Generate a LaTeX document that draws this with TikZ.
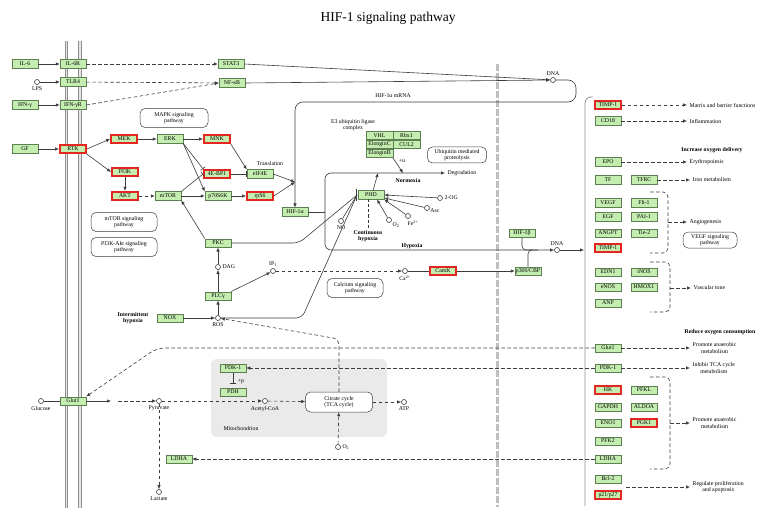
\documentclass[tikz,border=0pt]{standalone}
\usepackage{fontspec}
\setmainfont{Liberation Serif}
\usetikzlibrary{arrows.meta, positioning, calc}
\definecolor{KeggGreen}{HTML}{C4EDB0}
\definecolor{KeggEdge}{HTML}{5E7F52}
\definecolor{KeggRed}{HTML}{E3261F}
\definecolor{KeggLine}{HTML}{3C3C3C}
\definecolor{KeggGray}{HTML}{8E8E8E}
\definecolor{KeggMito}{HTML}{EAEAEA}
\newcommand{\keggfont}{\fontsize{5.8}{6.4}\selectfont}
\tikzset{
    gene/.style={
        draw=KeggEdge,
        fill=KeggGreen,
        line width=0.5pt,
        minimum width=26pt,
        minimum height=8.5pt,
        inner sep=0pt,
        font=\keggfont
    },
    hit/.style={
        gene,
        draw=KeggRed,
        line width=1.8pt
    },
    cplx/.style={
        gene,
        minimum width=26.5pt
    },
    cpd/.style={
        circle,
        draw=KeggLine,
        fill=white,
        line width=0.6pt,
        minimum size=5pt,
        inner sep=0pt
    },
    pathbox/.style={
        draw=KeggLine,
        fill=white,
        rounded corners=5pt,
        line width=0.5pt,
        align=center,
        font=\keggfont,
        inner sep=1pt
    },
    lbl/.style={font=\keggfont, inner sep=0.5pt, align=center},
    blbl/.style={font=\keggfont\bfseries, inner sep=0.5pt, align=center},
    wire/.style={KeggLine, line width=0.6pt},
    link/.style={
        wire,
        -{Latex[length=4pt,width=3.4pt]}
    },
    dlink/.style={link, dash pattern=on 3.5pt off 2.5pt},
    inhib/.style={wire, -{Bar[width=6pt]}},
    dbrace/.style={wire, dash pattern=on 3.5pt off 2.5pt, rounded corners=5pt}
}

\begin{document}
\begin{tikzpicture}[x=1pt, y=-1pt]
    \useasboundingbox (0,0) rectangle (776,513);
    \fill[white] (0,0) rectangle (776,513);

    % Title
    \node[font=\fontsize{13.5}{16}\selectfont] (title) at (388,18) {HIF-1 signaling pathway};

    % Membranes
    \foreach \mx in {66.5,80} {
        \draw[line width=3.6pt, KeggGray] (\mx,41) -- (\mx,508);
        \draw[line width=1.2pt, gray!20] (\mx,41) -- (\mx,508);
    }
    \draw[line width=3pt, gray!50, dash pattern=on 7pt off 2pt] (497,64) -- (497,507);

    % Mitochondrion
    \fill[KeggMito, rounded corners=6pt] (211,359) rectangle (387,437);
    \node[lbl] (mitolbl) at (241,429) {Mitochondrion};

    % Receptors
    \node[gene] (il6) at (25,64) {IL-6};
    \node[gene] (il6r) at (73,64) {IL-6R};
    \node[gene] (stat3) at (231,64) {STAT3};
    \node[cpd] (lps) at (37,82) {};
    \node[lbl, below=1pt of lps] (lpslbl) {LPS};
    \node[gene] (tlr4) at (73,82) {TLR4};
    \node[gene] (nfkb) at (232,83) {NF-κB};
    \node[gene] (ifng) at (25,105) {IFN-γ};
    \node[gene] (ifngr) at (73,105) {IFN-γR};
    \node[gene] (gf) at (25,149) {GF};
    \node[hit] (rtk) at (73,149) {RTK};
    \node[cpd] (dna1) at (553,80) {};
    \node[lbl, above=1pt of dna1] (dna1lbl) {DNA};
    \node[lbl] (mrnalbl) at (393,96) {HIF-1α mRNA};

    % Kinase cascades
    \node[pathbox, minimum width=68pt, minimum height=19pt] (mapkpw) at (174,118) {MAPK signaling\\pathway};
    \node[hit] (mek) at (124,139) {MEK};
    \node[gene] (erk) at (170,139) {ERK};
    \node[hit] (mnk) at (217,139) {MNK};
    \node[hit] (pi3k) at (125,172) {PI3K};
    \node[hit] (akt) at (125,196) {AKT};
    \node[gene] (mtor) at (168,196) {mTOR};
    \node[hit] (ebp1) at (217,174) {4E-BP1};
    \node[gene] (eif4e) at (260,174) {eIF4E};
    \node[gene] (p70) at (218,196) {p70S6K};
    \node[hit] (rps6) at (260,196) {rpS6};
    \node[lbl] (transl) at (270,164) {Translation};
    \node[gene] (hif1a) at (295,212) {HIF-1α};
    \node[pathbox, minimum width=66pt, minimum height=19pt] (mtorpw) at (124,222) {mTOR signaling\\pathway};
    \node[pathbox, minimum width=66pt, minimum height=19pt] (pi3kpw) at (124,247) {PI3K-Akt signaling\\pathway};

    % PLC / ROS
    \node[gene] (pkc) at (218,243) {PKC};
    \node[cpd] (dag) at (218,267) {};
    \node[lbl, right=1pt of dag] (daglbl) {DAG};
    \node[cpd] (ip3) at (273,271) {};
    \node[lbl, above=0.5pt of ip3] (ip3lbl) {IP\textsubscript{3}};
    \node[gene] (plcg) at (218,296) {PLCγ};
    \node[gene] (nox) at (170,318) {NOX};
    \node[cpd] (ros) at (218,318) {};
    \node[lbl, below=1pt of ros] (roslbl) {ROS};
    \node[blbl] (ihyp) at (133,318) {Intermittent\\hypoxia};

    % Degradation / stabilisation
    \node[lbl] (e3lbl) at (353,125) {E3 ubiquitin ligase\\complex};
    \node[cplx] (vhl) at (379.5,135.5) {VHL};
    \node[cplx, right=0pt of vhl] (rbx1) {Rbx1};
    \node[cplx, below=0pt of vhl] (elonc) {ElonginC};
    \node[cplx, below=0pt of rbx1] (cul2) {CUL2};
    \node[cplx, below=0pt of elonc] (elonb) {ElonginB};
    \node[pathbox, minimum width=59pt, minimum height=16pt] (upp) at (457,155) {Ubiquitin mediated\\proteolysis};
    \node[lbl] (ulbl) at (402,161) {+u};
    \node[lbl, anchor=west] (degr) at (447,173) {Degradation};
    \node[blbl] (normox) at (408,181) {Normoxia};
    \node[gene] (phd) at (371,195) {PHD};
    \node[cpd] (nocpd) at (341,221) {};
    \node[lbl, below=1pt of nocpd] (nolbl) {NO};
    \node[cpd] (o2a) at (389,220) {};
    \node[lbl] (o2albl) at (396,225) {O\textsubscript{2}};
    \node[cpd] (fe) at (408,216) {};
    \node[lbl] (felbl) at (413,223) {Fe\textsuperscript{2+}};
    \node[cpd] (asc) at (427,208) {};
    \node[lbl] (asclbl) at (435,211) {Asc};
    \node[cpd] (og) at (440,198) {};
    \node[lbl, right=1pt of og] (oglbl) {2-OG};
    \node[blbl] (conthyp) at (368,236) {Continuous\\hypoxia};
    \node[blbl] (hypox) at (412,246) {Hypoxia};
    \node[cpd] (dna2) at (557,250) {};
    \node[lbl, above=1pt of dna2] (dna2lbl) {DNA};
    \node[gene] (hif1b) at (522,233) {HIF-1β};
    \node[gene] (p300) at (528,271) {p300/CBP};
    \node[hit] (camk) at (443,271) {CamK};
    \node[cpd] (ca) at (405,271) {};
    \node[lbl, below=1pt of ca] (calbl) {Ca\textsuperscript{2+}};
    \node[pathbox, minimum width=56pt, minimum height=19pt] (calpw) at (355,288) {Calcium signaling\\pathway};

    % Target genes
    \node[hit] (timp1a) at (608,105) {TIMP-1};
    \node[gene] (cd18) at (608,121) {CD18};
    \node[blbl] (iod) at (712,150) {Increase oxygen delivery};
    \node[gene] (epo) at (608,162) {EPO};
    \node[gene] (tf) at (608,180) {TF};
    \node[gene] (tfrc) at (644,180) {TFRC};
    \node[gene] (vegf) at (608,203) {VEGF};
    \node[gene] (flt1) at (644,203) {Flt-1};
    \node[gene] (egf) at (608,217) {EGF};
    \node[gene] (pai1) at (644,217) {PAI-1};
    \node[gene] (angpt) at (608,233) {ANGPT};
    \node[gene] (tie2) at (644,233) {Tie-2};
    \node[hit] (timp1b) at (608,248) {TIMP-1};
    \node[pathbox, minimum width=54pt, minimum height=16pt] (vegfpw) at (710,240) {VEGF signaling\\pathway};
    \node[gene] (edn1) at (608,272) {EDN1};
    \node[gene] (inos) at (644,272) {iNOS};
    \node[gene] (enos) at (608,287) {eNOS};
    \node[gene] (hmox1) at (644,287) {HMOX1};
    \node[gene] (anp) at (608,303) {ANP};
    \node[blbl] (roc) at (720,332) {Reduce oxygen consumption};
    \node[gene] (glut1r) at (608,348) {Glut1};
    \node[gene] (pdk1r) at (608,368) {PDK-1};
    \node[hit] (hk) at (608,390) {HK};
    \node[gene] (pfkl) at (644,390) {PFKL};
    \node[gene] (gapdh) at (608,407) {GAPDH};
    \node[gene] (aldoa) at (644,407) {ALDOA};
    \node[gene] (eno1) at (608,423) {ENO1};
    \node[hit] (pgk1) at (644,423) {PGK1};
    \node[gene] (pfk2) at (608,441) {PFK2};
    \node[gene] (ldhar) at (608,459) {LDHA};
    \node[gene] (bcl2) at (608,479) {Bcl-2};
    \node[hit] (p21) at (608,495) {p21/p27};

    % Outcomes
    \node[lbl, anchor=west] (matrix) at (689,105) {Matrix and barrier functions};
    \node[lbl, anchor=west] (inflam) at (689,121) {Inflammation};
    \node[lbl, anchor=west] (erythro) at (689,162) {Erythropoiesis};
    \node[lbl, anchor=west] (iron) at (692,180) {Iron metabolism};
    \node[lbl, anchor=west] (angio) at (689,222) {Angiogenesis};
    \node[lbl, anchor=west] (vasc) at (693,288) {Vascular tone};
    \node[lbl, anchor=west] (anaer1) at (692,348) {Promote anaerobic\\metabolism};
    \node[lbl, anchor=west] (inhtca) at (692,368) {Inhibit TCA cycle\\metabolism};
    \node[lbl, anchor=west] (anaer2) at (692,423) {Promote anaerobic\\metabolism};
    \node[lbl, anchor=west] (prolif) at (692,487) {Regulate proliferation\\and apoptosis};

    % Glycolysis
    \node[cpd] (glucose) at (41,401) {};
    \node[lbl, below=1.5pt of glucose] (glclbl) {Glucose};
    \node[gene] (glut1) at (73,401) {Glut1};
    \node[cpd] (pyr) at (159,401) {};
    \node[lbl, below=1.5pt of pyr] (pyrlbl) {Pyruvate};
    \node[cpd] (acoa) at (265,401) {};
    \node[lbl, below=1.5pt of acoa] (acoalbl) {Acetyl-CoA};
    \node[gene] (pdk1m) at (233,368) {PDK-1};
    \node[gene] (pdh) at (233,392) {PDH};
    \node[lbl] (plbl) at (241,381) {+p};
    \node[pathbox, minimum width=67pt, minimum height=20pt] (tca) at (339,402) {Citrate cycle\\(TCA cycle)};
    \node[cpd] (atp) at (404,402) {};
    \node[lbl, below=1.5pt of atp] (atplbl) {ATP};
    \node[cpd] (o2b) at (338,447) {};
    \node[lbl, right=1pt of o2b] (o2blbl) {O\textsubscript{2}};
    \node[gene] (ldham) at (179,459) {LDHA};
    \node[cpd] (lac) at (159,492) {};
    \node[lbl, below=1.5pt of lac] (laclbl) {Lactate};

    % Receptor signalling
    \draw[link] (il6) -- (il6r);
    \draw[link] (lps) -- (tlr4);
    \draw[link] (ifng) -- (ifngr);
    \draw[link] (gf) -- (rtk);
    \draw[dlink] (il6r) -- (stat3);
    \draw[dlink] (tlr4) -- (nfkb);
    \draw[dlink] (ifngr.east) -- (nfkb.west);
    \draw[link] (stat3.east) -- (dna1);
    \draw[link] (nfkb.east) -- (dna1);
    \draw[link, rounded corners=8pt] (dna1.east) -- (576,80) -- (576,102) -- (295,102) -- (hif1a.north);

    % Kinases and translation
    \draw[link] (rtk.east) -- (mek.west);
    \draw[link] (rtk.south east) -- (pi3k.west);
    \draw[link] (mek) -- (erk);
    \draw[link] (erk) -- (mnk);
    \draw[link] (pi3k) -- (akt);
    \draw[dlink] (akt) -- (mtor);
    \draw[link] (mtor) -- (p70);
    \draw[link] (p70) -- (rps6);
    \draw[link] (erk.south east) -- (p70.north west);
    \draw[inhib] (erk.south east) -- (ebp1.north west);
    \draw[inhib] (mtor.north east) -- (ebp1.west);
    \draw[link] (mnk.south east) -- (eif4e.north west);
    \draw[inhib] (ebp1) -- (eif4e);
    \coordinate (trl) at (295,182);
    \draw[link] (eif4e.east) -- (trl);
    \draw[link] (rps6.east) -- (trl);
    \draw[link] (pkc.north west) -- (mtor.south east);

    % PLC, ROS and calcium
    \draw[link] (nox) -- (ros);
    \draw[link] (ros) -- (plcg);
    \draw[link] (plcg) -- (dag);
    \draw[link] (dag) -- (pkc);
    \draw[link] (plcg.north east) -- (ip3);
    \draw[dlink] (ip3) -- (ca);
    \draw[wire] (ca) -- (camk);
    \draw[link] (camk) -- (p300);

    % PHD
    \coordinate (phdbar) at (357,195);
    \draw[wire] ($(phd.north west)+(-1.5,-1.5)$) -- ($(phd.south west)+(-1.5,1.5)$);
    \draw[wire, rounded corners=6pt] (pkc.east) -- (299,243) -- (phdbar);
    \draw[wire, rounded corners=6pt] (ros.east) -- (302,318) -- (phdbar);
    \draw[wire] (nocpd) -- (phdbar);
    \coordinate (phdup) at (378,173);
    \draw[link] ($(phd.north)+(2,0)$) -- (phdup);
    \draw[wire, dash pattern=on 3pt off 2pt] ($(phd.south)+(-3,0)$) -- (conthyp.north);
    \draw[link] (og) -- (phd.east);
    \draw[link] (asc) -- ($(phd.east)+(0,3)$);
    \draw[link] (fe) -- (phd.south east);
    \draw[link] (o2a) -- ($(phd.south)+(6,0)$);
    \coordinate (ubq) at (403,173);
    \draw[link] (elonb.south east) -- (ubq);

    % HIF-1alpha fate
    \coordinate (hsplit) at (325,212);
    \draw[wire] (hif1a.east) -- (hsplit);
    \draw[link, rounded corners=6pt, shorten >=2pt] (hsplit) -- (325,173) -- (degr.west);
    \draw[link, rounded corners=6pt] (hsplit) -- (325,250) -- (dna2.west);
    \draw[wire, rounded corners=4pt] (hif1b.south) -- (522,250) -- (532,250);
    \draw[wire, rounded corners=4pt] (p300.north) -- (528,250) -- (538,250);
    \coordinate (rpin) at (584,250);
    \draw[link] (dna2) -- (rpin);
    \draw[wire, KeggGray, line width=0.8pt, rounded corners=6pt] (593,97) -- (585,97) -- (585,506);

    % Target outcomes
    \draw[dlink, shorten >=2pt] (timp1a) -- (matrix.west);
    \draw[dlink, shorten >=2pt] (cd18) -- (inflam.west);
    \draw[dlink, shorten >=2pt] (epo) -- (erythro.west);
    \draw[dlink, shorten >=2pt] (tfrc) -- (iron.west);
    \draw[dbrace] (650,192) -- (668,192) -- (668,253) -- (650,253);
    \coordinate (angtip) at (668,222);
    \draw[dlink, shorten >=2pt] (angtip) -- (angio.west);
    \draw[dbrace] (650,262) -- (670,262) -- (670,312) -- (650,312);
    \coordinate (vasctip) at (670,288);
    \draw[dlink, shorten >=2pt] (vasctip) -- (vasc.west);
    \draw[dlink, shorten >=2pt] (glut1r) -- (anaer1.west);
    \draw[dlink, shorten >=2pt] (pdk1r) -- (inhtca.west);
    \draw[dbrace] (650,377) -- (670,377) -- (670,469) -- (650,469);
    \coordinate (glytip) at (670,423);
    \draw[dlink, shorten >=2pt] (glytip) -- (anaer2.west);
    \coordinate (bclout) at (626,487);
    \draw[dlink, shorten >=2pt] (bclout) -- (prolif.west);

    % Metabolism
    \draw[wire] (glucose) -- (glut1);
    \coordinate (gout) at (111,401);
    \coordinate (gin) at (118,401);
    \draw[link] (glut1) -- (gout);
    \draw[dlink] (gin) -- (pyr);
    \draw[dlink] (pyr) -- (acoa);
    \draw[dlink] (acoa) -- (tca);
    \draw[dlink] (tca) -- (atp);
    \draw[dlink] (o2b) -- (tca);
    \draw[dlink] (pyr) -- (lac);
    \draw[inhib] (pdk1m) -- ($(pdh.north)+(0,-4)$);
    \draw[dlink, rounded corners=8pt] (glut1r.west) -- (157,348) -- (glut1.north east);
    \draw[dlink] (pdk1r) -- (pdk1m);
    \draw[dlink] (ldhar) -- (ldham);
    \draw[dlink, rounded corners=6pt] (tca.north) -- (339,339) -- (ros);
\end{tikzpicture}
\end{document}
